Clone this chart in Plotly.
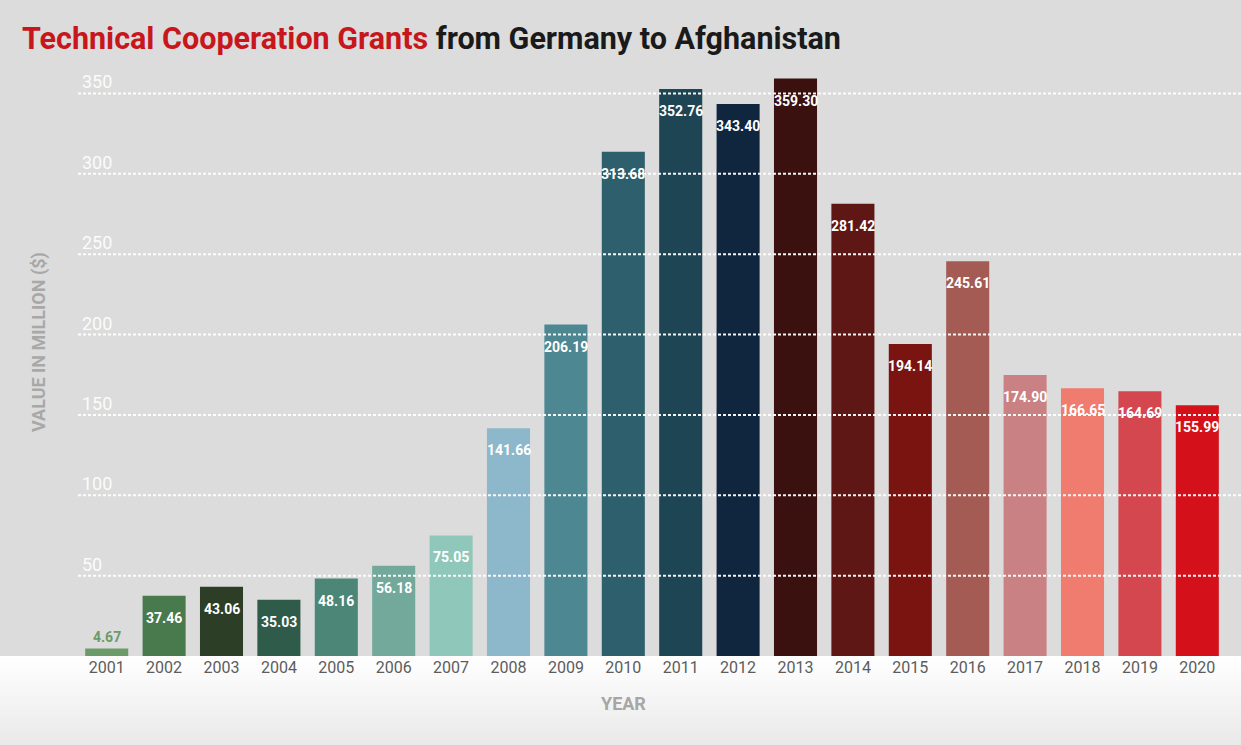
import plotly.graph_objects as go

# Technical cooperation grants, million USD
years = ["2001", "2002", "2003", "2004", "2005", "2006", "2007", "2008", "2009", "2010",
         "2011", "2012", "2013", "2014", "2015", "2016", "2017", "2018", "2019", "2020"]
values = [4.67, 37.46, 43.06, 35.03, 48.16, 56.18, 75.05, 141.66, 206.19, 313.68,
          352.76, 343.40, 359.30, 281.42, 194.14, 245.61, 174.90, 166.65, 164.69, 155.99]
bar_colors = ["#6b9b68", "#487a4e", "#2c3f26", "#2f5b4b", "#4b8676", "#73a99b", "#8fc8bb",
              "#8db7cb", "#4d8791", "#2e5f6c", "#1d4553", "#10263f", "#3b1110", "#5f1716",
              "#7a1410", "#a35b54", "#c98184", "#f07c70", "#d4474f", "#d4111a"]
y_ticks = [50, 100, 150, 200, 250, 300, 350]

W, H = 1241, 745
M_L, M_R, M_T, M_B = 78, 15, 70, 89
Y_MAX = 364.6
FONT = "Roboto"
PLOT_W = W - M_L - M_R
PLOT_H = H - M_T - M_B

fig = go.Figure()
fig.add_trace(go.Bar(
    x=years, y=values,
    marker=dict(color=bar_colors, line=dict(width=0)),
    width=0.75,
    hoverinfo="x+y",
))

shapes = []
# lower band: white fading to light grey (overlapping strips to avoid seams)
n_bands = 30
for i in range(n_bands):
    y0 = -(M_B * i / n_bands) / PLOT_H
    y1 = -(M_B * (i + 1.6) / n_bands) / PLOT_H
    f = i / (n_bands - 1)
    g = int(round(255 - (255 - 233) * f))
    shapes.append(dict(type="rect", xref="paper", yref="paper",
                       x0=-M_L / PLOT_W - 0.01, x1=1 + M_R / PLOT_W + 0.01,
                       y0=y0, y1=y1, fillcolor=f"rgb({g},{g},{g})",
                       line=dict(width=0), layer="below"))

# dotted gridlines drawn over the bars
for t in y_ticks:
    shapes.append(dict(type="line", xref="paper", yref="y",
                       x0=0, x1=1 + M_R / PLOT_W, y0=t, y1=t,
                       line=dict(color="rgba(255,255,255,0.95)", width=2, dash="3px,2px"),
                       layer="above"))

annotations = []
# y tick labels sitting just above each gridline
for t in y_ticks:
    annotations.append(dict(x=0, y=t, xref="paper", yref="y", text=str(t),
                            showarrow=False, xanchor="left", yanchor="bottom",
                            xshift=2, yshift=-1,
                            font=dict(family=FONT, size=18, color="rgba(255,255,255,0.92)")))

# value labels
for i, v in enumerate(values):
    if v < 20:
        annotations.append(dict(x=i, y=v, xref="x", yref="y", text=f"{v:.2f}",
                                showarrow=False, yanchor="bottom", yshift=1,
                                font=dict(family=FONT, size=14, color="#6b9b68", weight="bold")))
    else:
        annotations.append(dict(x=i, y=v, xref="x", yref="y", text=f"{v:.2f}",
                                showarrow=False, yanchor="middle", yshift=-22,
                                font=dict(family=FONT, size=14, color="white", weight="bold")))

annotations.append(dict(x=(623 - M_L) / PLOT_W, y=-(704 - (H - M_B)) / PLOT_H,
                        xref="paper", yref="paper", text="YEAR", showarrow=False,
                        xanchor="center", yanchor="middle",
                        font=dict(family=FONT, size=18, color="#a6a6a6", weight="bold")))
annotations.append(dict(x=(39 - M_L) / PLOT_W, y=((H - M_B) - 342) / PLOT_H,
                        xref="paper", yref="paper", text="VALUE IN MILLION ($)",
                        showarrow=False, textangle=-90, xanchor="center", yanchor="middle",
                        font=dict(family=FONT, size=18, color="#a8a8a8", weight="bold")))

fig.update_layout(
    width=W, height=H,
    margin=dict(l=M_L, r=M_R, t=M_T, b=M_B),
    paper_bgcolor="#dcdcdc",
    plot_bgcolor="rgba(0,0,0,0)",
    showlegend=False,
    bargap=0.25,
    title=dict(
        text="<span style='color:#c8161d'>Technical Cooperation Grants</span> from Germany to Afghanistan",
        x=22 / W, xanchor="left", xref="container",
        y=1 - 38 / H, yanchor="middle", yref="container",
        font=dict(family=FONT, size=30.5, color="#1a1a1a", weight="bold"),
    ),
    xaxis=dict(
        type="category", range=[-0.5, 19.5],
        showgrid=False, zeroline=False, showline=False, ticks="",
        tickfont=dict(family=FONT, size=16, color="#5c5c5c"),
    ),
    yaxis=dict(
        range=[0, Y_MAX], showgrid=False, zeroline=False,
        showline=False, ticks="", showticklabels=False,
    ),
    shapes=shapes,
    annotations=annotations,
)

fig.write_html("out.html")
